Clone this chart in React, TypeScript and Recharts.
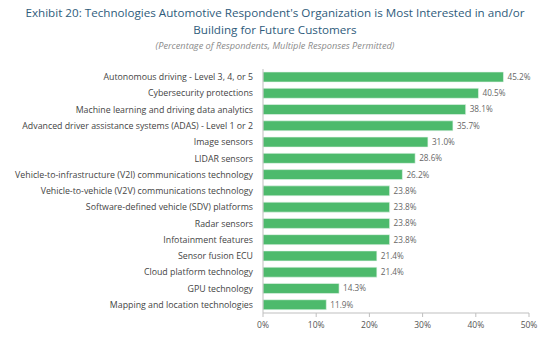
import React from 'react';
import { BarChart, Bar, XAxis, YAxis, LabelList } from 'recharts';

const categories = [
  'Autonomous driving - Level 3, 4, or 5',
  'Cybersecurity protections',
  'Machine learning and driving data analytics',
  'Advanced driver assistance systems (ADAS) - Level 1 or 2',
  'Image sensors',
  'LIDAR sensors',
  'Vehicle-to-infrastructure (V2I) communications technology',
  'Vehicle-to-vehicle (V2V) communications technology',
  'Software-defined vehicle (SDV) platforms',
  'Radar sensors',
  'Infotainment features',
  'Sensor fusion ECU',
  'Cloud platform technology',
  'GPU technology',
  'Mapping and location technologies',
];

const percentages = [45.2, 40.5, 38.1, 35.7, 31.0, 28.6, 26.2, 23.8, 23.8, 23.8, 23.8, 21.4, 21.4, 14.3, 11.9];

const xTicks = [0, 10, 20, 30, 40, 50];

const data = categories.map((name, i) => ({ name, value: percentages[i] }));

const FONT = '"Open Sans", "Noto Sans", sans-serif';

// single-line category label, right aligned against the axis
const CategoryTick = (props: any) => {
  const { x, y, payload } = props;
  return (
    <text x={x} y={y} dy="0.35em" textAnchor="end" fill="#444" fontSize={8.8} fontFamily={FONT}>
      {payload.value}
    </text>
  );
};

export default function App() {
  return (
    <div style={{ position: 'absolute', left: 0, top: 0, width: 550, height: 345, background: '#fff', fontFamily: FONT }}>
      <div style={{ position: 'absolute', top: 4, left: 0, width: 550, textAlign: 'center', color: '#2e5b7b', fontSize: 11.65, lineHeight: '17px' }}>
        Exhibit 20: Technologies Automotive Respondent's Organization is Most Interested in and/or
        <br />
        Building for Future Customers
      </div>
      <div style={{ position: 'absolute', top: 39, left: 0, width: 550, textAlign: 'center', color: '#8a8a8a', fontSize: 9.2, fontStyle: 'italic' }}>
        (Percentage of Respondents, Multiple Responses Permitted)
      </div>
      <BarChart
        width={550}
        height={345}
        data={data}
        layout="vertical"
        margin={{ top: 69, right: 21, bottom: 2, left: 0 }}
        style={{ position: 'absolute', left: 0, top: 0 }}
      >
        <XAxis
          type="number"
          domain={[0, 50]}
          ticks={xTicks}
          tickFormatter={(v: number) => `${v}%`}
          axisLine={{ stroke: '#bfbfbf' }}
          tickLine={{ stroke: '#bfbfbf' }}
          tickSize={4}
          tickMargin={5}
          tick={{ fill: '#555', fontSize: 8.5, fontFamily: FONT }}
          height={30}
        />
        <YAxis
          type="category"
          dataKey="name"
          width={263}
          axisLine={{ stroke: '#bfbfbf' }}
          tickLine={false}
          tickSize={6}
          tickMargin={4}
          interval={0}
          tick={<CategoryTick />}
        />
        <Bar dataKey="value" fill="#4dba6c" stroke="#e8f5ec" strokeWidth={0.6} barSize={10} isAnimationActive={false}>
          <LabelList
            dataKey="value"
            position="right"
            offset={4}
            formatter={(v: number) => `${v.toFixed(1)}%`}
            style={{ fill: '#666', fontSize: 8.2, fontFamily: FONT }}
          />
        </Bar>
      </BarChart>
    </div>
  );
}
